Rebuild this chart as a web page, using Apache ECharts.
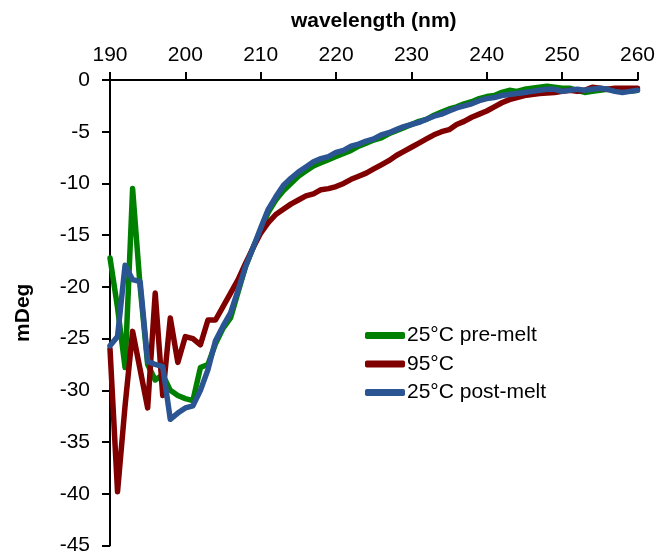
<!DOCTYPE html>
<html>
<head>
<meta charset="utf-8">
<script src="https://cdn.jsdelivr.net/npm/echarts@6/dist/echarts.min.js"></script>
<style>html,body{margin:0;padding:0;background:#fff}#c{width:658px;height:556px}</style>
</head>
<body>
<div id="c"></div>
<script>
var wavelengths = [];
for (var w = 190; w <= 260; w++) wavelengths.push(w);

var preMelt = [-17.2,-22,-27.8,-10.5,-20,-27.5,-29,-28.5,-30,-30.5,-30.8,-31,-27.8,-27.5,-25.5,-24,-23,-20.5,-18,-16.2,
  -14.5,-12.8,-11.6,-10.7,-10,-9.3,-8.8,-8.3,-8,-7.7,-7.4,-7.1,-6.8,-6.4,-6.1,-5.8,-5.6,-5.2,-4.9,-4.6,
  -4.3,-4.0,-3.8,-3.4,-3.1,-2.8,-2.6,-2.3,-2.1,-1.8,-1.6,-1.5,-1.2,-1.0,-1.1,-0.9,-0.8,-0.7,-0.6,-0.7,
  -0.8,-0.8,-1.0,-1.2,-1.1,-1.0,-0.9,-1.0,-1.0,-1.1,-1.0];

var melt95 = [-26,-39.8,-31.5,-24.3,-28,-31.7,-20.6,-30.5,-23,-27.3,-24.8,-25,-25.6,-23.2,-23.2,-21.9,-20.6,-19.3,-17.7,-16.2,
  -14.8,-13.8,-13,-12.5,-12,-11.6,-11.2,-11,-10.6,-10.5,-10.3,-10.0,-9.6,-9.3,-9.0,-8.6,-8.2,-7.8,-7.3,-6.9,
  -6.5,-6.1,-5.7,-5.3,-5.0,-4.8,-4.3,-4.0,-3.6,-3.3,-3.0,-2.6,-2.2,-1.9,-1.7,-1.5,-1.4,-1.3,-1.25,-1.2,
  -1.1,-1.0,-1.1,-1.0,-0.7,-0.8,-0.9,-0.8,-0.8,-0.8,-0.8];

var postMelt = [-25.7,-24.8,-17.9,-19.3,-19.5,-27.2,-27.5,-27.7,-32.8,-32.2,-31.7,-31.5,-30.0,-28,-25.2,-23.8,-22.5,-20.3,-18,-16.2,
  -14.3,-12.5,-11.3,-10.2,-9.5,-8.9,-8.4,-7.9,-7.6,-7.4,-7.0,-6.8,-6.4,-6.2,-5.9,-5.7,-5.3,-5.1,-4.8,-4.5,
  -4.3,-4.1,-3.8,-3.5,-3.3,-3.0,-2.7,-2.5,-2.3,-2.0,-1.8,-1.7,-1.5,-1.4,-1.3,-1.2,-1.1,-1.0,-0.9,-0.9,
  -1.1,-1.0,-0.9,-1.0,-0.9,-0.8,-0.9,-1.1,-1.2,-1.1,-1.0];

var seriesNames = ['25°C pre-melt', '95°C', '25°C post-melt'];
var seriesColors = ['#008000', '#800000', '#2B5592'];
var seriesData = [preMelt, melt95, postMelt];

function pairs(vals) {
  return wavelengths.map(function (x, i) { return [x, vals[i]]; });
}

var font = 'Liberation Sans, Arial, sans-serif';
var chart = echarts.init(document.getElementById('c'), null, {renderer: 'canvas'});
chart.setOption({
  animation: false,
  backgroundColor: '#fff',
  grid: {left: 110, right: 19, top: 80, bottom: 10, containLabel: false},
  legend: {
    orient: 'vertical',
    left: 360,
    top: 320,
    itemWidth: 40,
    itemHeight: 7,
    itemGap: 7.5,
    icon: 'roundRect',
    textStyle: {fontFamily: font, fontSize: 21, color: '#000', padding: [0, 0, 0, -3]},
    data: seriesNames
  },
  xAxis: {
    type: 'value',
    position: 'top',
    min: 190, max: 260, interval: 10,
    name: 'wavelength (nm)',
    nameLocation: 'middle',
    nameGap: 48,
    nameTextStyle: {fontFamily: font, fontSize: 21, fontWeight: 'bold', color: '#000'},
    axisLine: {onZero: false, lineStyle: {color: '#000', width: 2}},
    axisTick: {show: true, length: 8, lineStyle: {color: '#000', width: 2}},
    axisLabel: {fontFamily: font, fontSize: 21, color: '#000', margin: 14},
    splitLine: {show: false}
  },
  yAxis: {
    type: 'value',
    min: -45, max: 0, interval: 5,
    name: 'mDeg',
    nameLocation: 'middle',
    nameGap: 76,
    nameTextStyle: {fontFamily: font, fontSize: 21, fontWeight: 'bold', color: '#000'},
    axisLine: {show: true, onZero: false, lineStyle: {color: '#000', width: 2}},
    axisTick: {show: true, length: 8, lineStyle: {color: '#000', width: 2}},
    axisLabel: {fontFamily: font, fontSize: 21, color: '#000', margin: 20},
    splitLine: {show: false}
  },
  series: seriesNames.map(function (n, i) {
    return {
      name: n,
      type: 'line',
      data: pairs(seriesData[i]),
      showSymbol: false,
      symbol: 'none',
      lineStyle: {color: seriesColors[i], width: 5.5, join: 'round', cap: 'round'},
      itemStyle: {color: seriesColors[i]},
      z: 2 + i
    };
  })
});
</script>
</body>
</html>
